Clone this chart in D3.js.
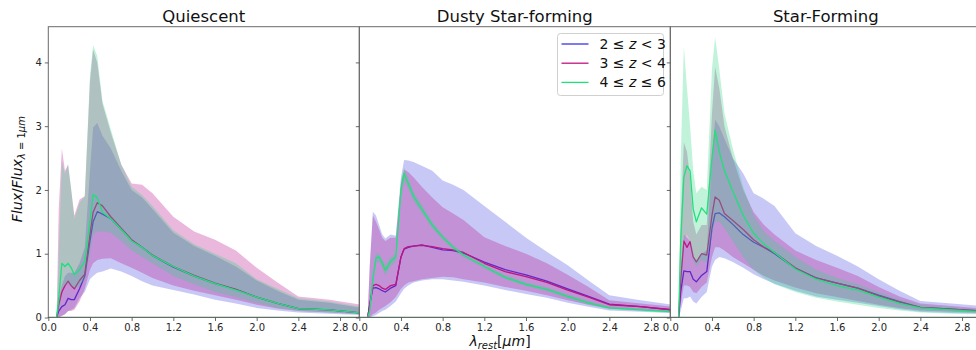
<!DOCTYPE html>
<html>
<head>
<meta charset="utf-8">
<script src="https://cdn.jsdelivr.net/npm/d3@7"></script>
<style>
  html, body { margin: 0; padding: 0; background: #fff; }
  svg { display: block; font-family: "DejaVu Sans", sans-serif; }
</style>
</head>
<body>
<svg id="chart" width="976" height="350"></svg>
<script>
// Rest-frame wavelength grid (µm) shared by every stacked SED
const lambdaGrid = [0.08, 0.1, 0.13, 0.16, 0.19, 0.22, 0.25, 0.3, 0.35, 0.4, 0.43, 0.47, 0.52, 0.6, 0.7, 0.8, 0.9, 1.0, 1.2, 1.4, 1.6, 1.8, 2.0, 2.2, 2.4, 2.7, 3.0];

const panelTitles = ["Quiescent", "Dusty Star-forming", "Star-Forming"];
const xTicks = [0.0, 0.4, 0.8, 1.2, 1.6, 2.0, 2.4, 2.8];
const yTicks = [0, 1, 2, 3, 4];
const binLabels = [["2 ≤ ", "z", " < 3"], ["3 ≤ ", "z", " < 4"], ["4 ≤ ", "z", " ≤ 6"]];

// Quiescent: median and 16-84% envelope per redshift bin
const quiescentLowZ     = [0, 0.1, 0.17, 0.2, 0.3, 0.28, 0.28, 0.45, 0.65, 1.2, 1.5, 1.66, 1.62, 1.55, 1.38, 1.21, 1.1, 0.97, 0.79, 0.65, 0.53, 0.44, 0.32, 0.22, 0.14, 0.12, 0.07];
const quiescentLowZLo   = [0, 0, 0.03, 0.05, 0.1, 0.12, 0.15, 0.3, 0.4, 0.6, 0.65, 0.7, 0.72, 0.77, 0.72, 0.65, 0.57, 0.5, 0.43, 0.36, 0.28, 0.22, 0.15, 0.11, 0.08, 0.06, 0.04];
const quiescentLowZHi   = [0, 0.3, 0.5, 0.65, 0.7, 0.7, 0.7, 0.85, 1.1, 2.3, 2.98, 3.05, 2.85, 2.65, 2.3, 2.0, 1.88, 1.7, 1.33, 1.12, 0.97, 0.8, 0.58, 0.42, 0.28, 0.23, 0.15];
const quiescentMidZ     = [0, 0.2, 0.4, 0.5, 0.57, 0.5, 0.45, 0.58, 0.68, 1.3, 1.65, 1.8, 1.75, 1.58, 1.4, 1.22, 1.1, 0.98, 0.8, 0.66, 0.54, 0.44, 0.32, 0.22, 0.14, 0.12, 0.07];
const quiescentMidZLo   = [0, 0, 0.02, 0.05, 0.1, 0.1, 0.12, 0.25, 0.45, 0.75, 0.85, 0.9, 0.92, 0.93, 0.85, 0.78, 0.7, 0.62, 0.5, 0.42, 0.35, 0.28, 0.2, 0.14, 0.1, 0.08, 0.05];
const quiescentMidZHi   = [0, 1.7, 2.65, 2.3, 2.4, 2.0, 1.6, 1.85, 1.9, 3.7, 4.2, 4.0, 3.35, 2.9, 2.4, 2.1, 2.08, 1.95, 1.58, 1.35, 1.22, 1.05, 0.78, 0.55, 0.33, 0.28, 0.2];
const quiescentHighZ    = [0, 0.3, 0.85, 0.8, 0.85, 0.78, 0.67, 0.75, 0.88, 1.5, 1.93, 1.88, 1.65, 1.55, 1.38, 1.2, 1.1, 0.97, 0.8, 0.65, 0.53, 0.43, 0.32, 0.22, 0.14, 0.12, 0.07];
const quiescentHighZLo  = [0, 0.1, 0.45, 0.5, 0.55, 0.5, 0.45, 0.5, 0.6, 1.0, 1.3, 1.35, 1.35, 1.33, 1.2, 1.05, 0.95, 0.85, 0.65, 0.52, 0.4, 0.32, 0.23, 0.15, 0.1, 0.08, 0.05];
const quiescentHighZHi  = [0, 1.0, 2.45, 2.25, 2.4, 2.0, 1.55, 1.8, 1.9, 3.8, 4.27, 4.1, 3.4, 2.95, 2.4, 2.05, 1.92, 1.75, 1.37, 1.15, 1.0, 0.85, 0.6, 0.45, 0.3, 0.25, 0.17];

// Dusty star-forming
const dustyLowZ     = [0, 0.2, 0.46, 0.47, 0.45, 0.42, 0.4, 0.46, 0.5, 0.95, 1.07, 1.1, 1.12, 1.14, 1.1, 1.06, 1.05, 1.01, 0.87, 0.75, 0.67, 0.57, 0.45, 0.33, 0.21, 0.17, 0.12];
const dustyLowZLo   = [0, 0, 0.02, 0.04, 0.07, 0.1, 0.12, 0.18, 0.25, 0.38, 0.45, 0.5, 0.55, 0.58, 0.6, 0.6, 0.58, 0.56, 0.5, 0.43, 0.37, 0.31, 0.23, 0.17, 0.11, 0.09, 0.07];
const dustyLowZHi   = [0, 0.8, 1.66, 1.6, 1.45, 1.3, 1.24, 1.3, 1.28, 2.2, 2.47, 2.46, 2.44, 2.38, 2.3, 2.15, 2.08, 2.0, 1.75, 1.5, 1.25, 1.03, 0.82, 0.58, 0.35, 0.27, 0.2];
const dustyMidZ     = [0, 0.2, 0.5, 0.52, 0.5, 0.46, 0.44, 0.5, 0.52, 0.95, 1.08, 1.11, 1.12, 1.13, 1.11, 1.08, 1.06, 1.02, 0.85, 0.72, 0.64, 0.55, 0.43, 0.32, 0.2, 0.17, 0.12];
const dustyMidZLo   = [0, 0, 0.05, 0.08, 0.12, 0.15, 0.18, 0.24, 0.32, 0.45, 0.5, 0.55, 0.57, 0.6, 0.62, 0.64, 0.63, 0.6, 0.55, 0.48, 0.42, 0.35, 0.27, 0.2, 0.14, 0.12, 0.09];
const dustyMidZHi   = [0, 0.8, 1.6, 1.5, 1.38, 1.25, 1.2, 1.25, 1.25, 2.1, 2.32, 2.28, 2.2, 2.05, 1.88, 1.73, 1.63, 1.53, 1.26, 1.12, 1.0, 0.85, 0.67, 0.48, 0.27, 0.22, 0.17];
const dustyHighZ    = [0, 0.1, 0.6, 0.93, 0.95, 0.85, 0.74, 0.88, 0.95, 2.0, 2.26, 2.1, 1.9, 1.7, 1.45, 1.26, 1.1, 0.98, 0.8, 0.63, 0.52, 0.44, 0.33, 0.23, 0.15, 0.12, 0.09];
const dustyHighZLo  = [0, 0.03, 0.5, 0.85, 0.88, 0.78, 0.66, 0.8, 0.88, 1.85, 2.15, 2.02, 1.83, 1.64, 1.4, 1.22, 1.06, 0.95, 0.77, 0.6, 0.49, 0.41, 0.3, 0.2, 0.13, 0.1, 0.07];
const dustyHighZHi  = [0, 0.2, 0.7, 1.0, 1.0, 0.92, 0.82, 0.94, 1.0, 2.15, 2.35, 2.18, 1.97, 1.76, 1.5, 1.3, 1.14, 1.01, 0.83, 0.66, 0.55, 0.47, 0.36, 0.26, 0.17, 0.14, 0.11];

// Star-forming
const starFormingLowZ     = [0, 0.4, 0.73, 0.72, 0.72, 0.6, 0.56, 0.66, 0.72, 1.4, 1.63, 1.64, 1.58, 1.46, 1.3, 1.18, 1.1, 1.0, 0.77, 0.62, 0.54, 0.46, 0.35, 0.25, 0.16, 0.13, 0.1];
const starFormingLowZLo   = [0, 0.1, 0.3, 0.3, 0.33, 0.25, 0.22, 0.32, 0.4, 0.8, 0.9, 0.95, 0.93, 0.87, 0.78, 0.68, 0.6, 0.53, 0.42, 0.33, 0.28, 0.23, 0.18, 0.13, 0.09, 0.07, 0.06];
const starFormingLowZHi   = [0, 0.7, 1.3, 1.25, 1.2, 0.95, 0.9, 1.0, 1.05, 2.5, 3.1, 3.0, 2.8, 2.5, 2.26, 1.95, 1.86, 1.75, 1.32, 1.12, 0.97, 0.8, 0.6, 0.42, 0.26, 0.22, 0.18];
const starFormingMidZ     = [0, 0.6, 1.2, 1.1, 1.19, 0.95, 0.87, 1.0, 0.98, 1.6, 1.89, 1.84, 1.63, 1.52, 1.38, 1.22, 1.1, 1.02, 0.78, 0.62, 0.54, 0.46, 0.34, 0.24, 0.16, 0.13, 0.1];
const starFormingMidZLo   = [0, 0.2, 0.5, 0.5, 0.48, 0.4, 0.38, 0.48, 0.55, 0.95, 1.1, 1.1, 1.05, 0.95, 0.85, 0.75, 0.65, 0.58, 0.47, 0.38, 0.32, 0.26, 0.2, 0.15, 0.11, 0.09, 0.07];
const starFormingMidZHi   = [0, 1.5, 2.75, 2.6, 2.2, 1.5, 1.3, 1.45, 1.45, 3.2, 3.93, 3.6, 3.0, 2.5, 2.0, 1.65, 1.45, 1.3, 1.05, 0.9, 0.78, 0.65, 0.48, 0.33, 0.22, 0.18, 0.14];
const starFormingHighZ    = [0, 1.2, 2.2, 2.38, 2.3, 1.7, 1.5, 1.72, 1.62, 2.5, 2.94, 2.6, 2.3, 1.98, 1.6, 1.32, 1.15, 1.02, 0.76, 0.6, 0.5, 0.43, 0.32, 0.22, 0.15, 0.12, 0.09];
const starFormingHighZLo  = [0, 0.5, 1.2, 1.3, 1.2, 0.9, 0.8, 0.9, 0.85, 1.3, 1.5, 1.5, 1.4, 1.2, 0.95, 0.75, 0.62, 0.52, 0.4, 0.31, 0.25, 0.2, 0.15, 0.11, 0.08, 0.06, 0.05];
const starFormingHighZHi  = [0, 2.5, 4.25, 3.6, 3.0, 2.3, 1.95, 2.05, 2.0, 3.9, 4.4, 3.9, 3.2, 2.65, 2.05, 1.6, 1.35, 1.2, 0.95, 0.75, 0.62, 0.52, 0.4, 0.28, 0.2, 0.16, 0.12];

const lineColors = ["#3b32e6", "#c0157f", "#1fe07a"];
const bandColors = ["#4848e0", "#b5138b", "#30d884"];

const panels = [
  { title: panelTitles[0], series: [
    { mid: quiescentLowZ,  lo: quiescentLowZLo,  hi: quiescentLowZHi },
    { mid: quiescentMidZ,  lo: quiescentMidZLo,  hi: quiescentMidZHi },
    { mid: quiescentHighZ, lo: quiescentHighZLo, hi: quiescentHighZHi } ] },
  { title: panelTitles[1], series: [
    { mid: dustyLowZ,  lo: dustyLowZLo,  hi: dustyLowZHi },
    { mid: dustyMidZ,  lo: dustyMidZLo,  hi: dustyMidZHi },
    { mid: dustyHighZ, lo: dustyHighZLo, hi: dustyHighZHi } ] },
  { title: panelTitles[2], series: [
    { mid: starFormingLowZ,  lo: starFormingLowZLo,  hi: starFormingLowZHi },
    { mid: starFormingMidZ,  lo: starFormingMidZLo,  hi: starFormingMidZHi },
    { mid: starFormingHighZ, lo: starFormingHighZLo, hi: starFormingHighZHi } ] }
];

// Layout
const marginLeft = 48.3, marginTop = 26.7, panelW = 311, panelH = 290.8;
const svg = d3.select("#chart");

const x = d3.scaleLinear().domain([0, 2.985]).range([0, panelW]);
const y = d3.scaleLinear().domain([0, 4.56]).range([panelH, 0]);

const area = d3.area()
  .x((d, i) => x(lambdaGrid[i]))
  .y0(d => y(d[0]))
  .y1(d => y(d[1]));
const line = d3.line()
  .x((d, i) => x(lambdaGrid[i]))
  .y(d => y(d));

svg.append("defs").append("clipPath").attr("id", "plotArea")
  .append("rect").attr("width", panelW).attr("height", panelH);

panels.forEach((p, pi) => {
  const g = svg.append("g").attr("transform", `translate(${marginLeft + pi * panelW},${marginTop})`);
  const plot = g.append("g").attr("clip-path", "url(#plotArea)");

  p.series.forEach((s, si) => {
    const band = s.lo.map((v, i) => [v, s.hi[i]]);
    plot.append("path").datum(band).attr("d", area)
      .attr("fill", bandColors[si]).attr("fill-opacity", 0.3).attr("stroke", "none");
    plot.append("path").datum(s.mid).attr("d", line)
      .attr("fill", "none").attr("stroke", lineColors[si]).attr("stroke-width", 1.3)
      .attr("stroke-linejoin", "round");
  });

  // flat zero level spanning the full wavelength range
  plot.append("line")
    .attr("x1", x(0)).attr("x2", x(2.985)).attr("y1", y(0)).attr("y2", y(0))
    .attr("stroke", "#2a8a52").attr("stroke-width", 1.6);

  // frame
  g.append("rect").attr("width", panelW).attr("height", panelH)
    .attr("fill", "none").attr("stroke", "#6a6a6a").attr("stroke-width", 1);

  // axes
  const xAxis = d3.axisBottom(x).tickValues(xTicks).tickFormat(d3.format(".1f"))
    .tickSizeInner(3.5).tickSizeOuter(0).tickPadding(3);
  const gx = g.append("g").attr("transform", `translate(0,${panelH})`).call(xAxis);
  const yAxis = d3.axisLeft(y).tickValues(yTicks).tickFormat(pi === 0 ? d3.format("d") : () => "")
    .tickSizeInner(3.5).tickSizeOuter(0).tickPadding(3);
  const gy = g.append("g").call(yAxis);
  [gx, gy].forEach(a => {
    a.select(".domain").remove();
    a.selectAll(".tick line").attr("stroke", "#444").attr("stroke-width", 0.8);
    a.selectAll(".tick text").attr("fill", "#262626").attr("font-size", 10)
      .attr("font-family", "DejaVu Sans, sans-serif");
  });

  g.append("text").attr("x", panelW / 2).attr("y", -5)
    .attr("text-anchor", "middle").attr("font-size", 16.5).attr("fill", "#111")
    .text(p.title);
});

// y axis label: Flux/Flux_{λ=1µm}
const yl = svg.append("text")
  .attr("transform", `translate(22,${marginTop + panelH / 2 - 3}) rotate(-90)`)
  .attr("text-anchor", "middle").attr("font-size", 14).attr("fill", "#111");
yl.append("tspan").attr("font-style", "italic").text("Flux");
yl.append("tspan").text("/");
yl.append("tspan").attr("font-style", "italic").text("Flux");
yl.append("tspan").attr("font-size", 10).attr("dy", 3).attr("font-style", "italic").text("λ");
yl.append("tspan").attr("font-size", 10).text(" = 1");
yl.append("tspan").attr("font-size", 10).attr("font-style", "italic").text("μm");

// x axis label: λ_rest[µm]
const xl = svg.append("text")
  .attr("x", 500).attr("y", 346)
  .attr("text-anchor", "middle").attr("font-size", 14).attr("fill", "#111");
xl.append("tspan").attr("font-style", "italic").text("λ");
xl.append("tspan").attr("font-style", "italic").attr("font-size", 10).attr("dy", 3).text("rest");
xl.append("tspan").attr("dy", -3).text("[");
xl.append("tspan").attr("font-style", "italic").text("μm");
xl.append("tspan").text("]");

// legend inside the middle panel
const lg = svg.append("g").attr("transform", "translate(557.5,33.5)");
lg.append("rect").attr("width", 106).attr("height", 62).attr("rx", 3)
  .attr("fill", "#fff").attr("fill-opacity", 0.85).attr("stroke", "#d0d0d0").attr("stroke-width", 1);
binLabels.forEach((lab, i) => {
  const yy = 10.5 + i * 19.2;
  lg.append("line").attr("x1", 4).attr("x2", 31).attr("y1", yy).attr("y2", yy)
    .attr("stroke", lineColors[i]).attr("stroke-width", 1.3);
  const t = lg.append("text").attr("x", 42).attr("y", yy + 5).attr("font-size", 14).attr("fill", "#111");
  t.append("tspan").text(lab[0]);
  t.append("tspan").attr("font-style", "italic").text(lab[1]);
  t.append("tspan").text(lab[2]);
});
</script>
</body>
</html>
